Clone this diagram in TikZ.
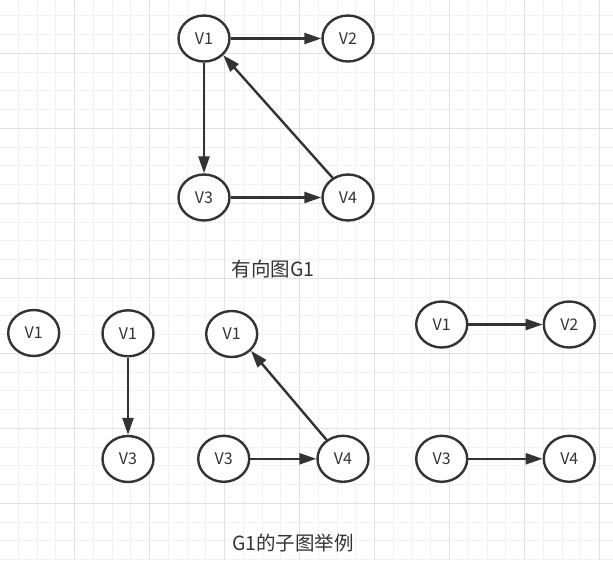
\documentclass[tikz,border=0pt]{standalone}
\usepackage{fontspec}
\setmainfont{Noto Sans CJK SC}
\usetikzlibrary{arrows.meta,shapes.geometric}
\definecolor{ink}{HTML}{333333}
\definecolor{gridminor}{HTML}{F2F2F2}
\definecolor{gridmajor}{HTML}{E2E2E2}
\begin{document}
\begin{tikzpicture}[x=1pt,y=-1pt,
  vnode/.style={ellipse,draw=ink,line width=2.4pt,fill=white,minimum width=51pt,minimum height=46pt,inner sep=0pt,text=ink,font=\fontsize{16}{19}\selectfont},
  edge/.style={draw=ink,line width=2.4pt,-{Triangle[length=17pt,width=11pt]}},
  title/.style={text=ink,font=\fontsize{19.5}{23}\selectfont,inner sep=0pt},
  minorline/.style={draw=gridminor,line width=1pt},
  majorline/.style={draw=gridmajor,line width=1pt}]
\useasboundingbox (0,0) rectangle (613,560);
\fill[white] (0,0) rectangle (613,560);
% grid
\foreach \i in {0,...,33} {
  \draw[minorline] ({-0.5+18.75*\i},0) -- ++(0,560);
}
\foreach \i in {0,...,30} {
  \draw[minorline] (0,{-2.95+18.75*\i}) -- ++(613,0);
}
\foreach \i in {0,...,8} {
  \draw[majorline] ({-0.5+75*\i},0) -- ++(0,560);
}
\foreach \i in {0,...,7} {
  \draw[majorline] (0,{-21.7+75*\i}) -- ++(613,0);
}
% top graph G1
\node[vnode] (a1) at (204,38.5) {V1};
\node[vnode] (a2) at (348,38.5) {V2};
\node[vnode] (a3) at (204,197.5) {V3};
\node[vnode] (a4) at (348,197.5) {V4};
\draw[edge] (a1) -- (a2);
\draw[edge] (a1) -- (a3);
\draw[edge] (a3) -- (a4);
\draw[edge] (a4.128) -- (a1.-41);
\node[title] (t1) at (273,269) {有向图G1};
% subgraph 1
\node[vnode] (b1) at (33.7,333) {V1};
% subgraph 2
\node[vnode] (c1) at (128,333.3) {V1};
\node[vnode] (c3) at (128,459) {V3};
\draw[edge] (c1) -- (c3);
% subgraph 3
\node[vnode] (d1) at (231.7,334) {V1};
\node[vnode] (d3) at (223.7,458.8) {V3};
\node[vnode] (d4) at (343,458.8) {V4};
\draw[edge] (d3) -- (d4);
\draw[edge] (d4.131) -- (d1.-41);
% subgraph 4
\node[vnode] (e1) at (441.7,324.5) {V1};
\node[vnode] (e2) at (569.3,324.5) {V2};
\node[vnode] (e3) at (441.7,458.8) {V3};
\node[vnode] (e4) at (569.3,458.8) {V4};
\draw[edge] (e1) -- (e2);
\draw[edge] (e3) -- (e4);
\node[title] (t2) at (293,543) {G1的子图举例};
\end{tikzpicture}
\end{document}
